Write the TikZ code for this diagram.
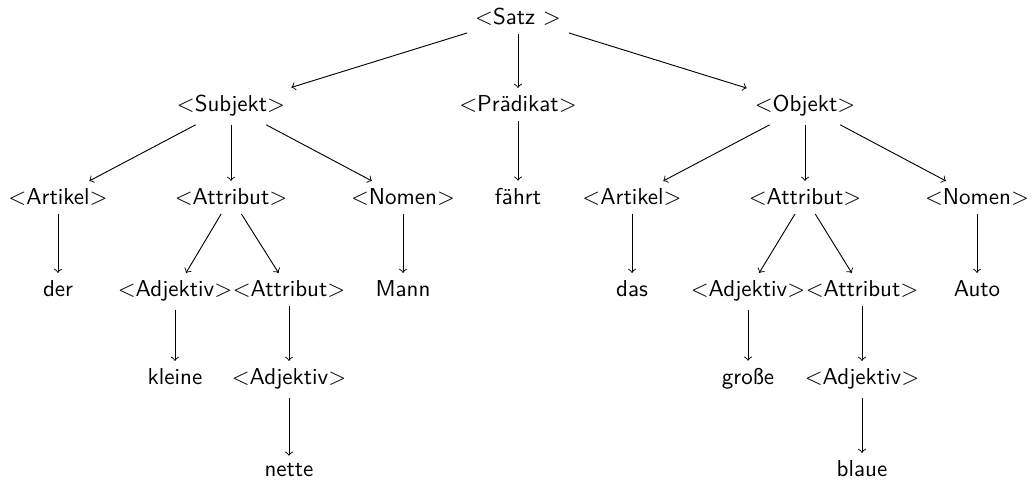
\documentclass[tikz,border=0pt]{standalone}
\begin{document}
\begin{tikzpicture}[x=0.435pt,y=-0.435pt,
  t/.style={font=\sffamily,anchor=base},
  arr/.style={->}]
\useasboundingbox (0,0) rectangle (1031,481);
% level 0
\node[t] (satz) at (518,25) {$<$Satz $>$};
% level 1
\node[t] (subj) at (231,112) {$<$Subjekt$>$};
\node[t] (pred) at (518,112) {$<$Prädikat$>$};
\node[t] (obj)  at (805,112) {$<$Objekt$>$};
% level 2
\node[t] (artL) at (58,205)  {$<$Artikel$>$};
\node[t] (attL) at (231,205) {$<$Attribut$>$};
\node[t] (nomL) at (403,205) {$<$Nomen$>$};
\node[t] (faehrt) at (518,205) {fährt};
\node[t] (artR) at (632,205) {$<$Artikel$>$};
\node[t] (attR) at (805,205) {$<$Attribut$>$};
\node[t] (nomR) at (977,205) {$<$Nomen$>$};
% level 3
\node[t] (der)   at (58,297)  {der};
\node[t] (adjL)  at (175,297) {$<$Adjektiv$>$};
\node[t] (att2L) at (289,297) {$<$Attribut$>$};
\node[t] (mann)  at (403,297) {Mann};
\node[t] (das)   at (632,297) {das};
\node[t] (adjR)  at (748,297) {$<$Adjektiv$>$};
\node[t] (att2R) at (862,297) {$<$Attribut$>$};
\node[t] (auto)  at (977,297) {Auto};
% level 4
\node[t] (kleine) at (175,385) {kleine};
\node[t] (adj2L)  at (289,385) {$<$Adjektiv$>$};
\node[t] (grosse) at (748,385) {große};
\node[t] (adj2R)  at (862,385) {$<$Adjektiv$>$};
% level 5
\node[t] (nette) at (289,477) {nette};
\node[t] (blaue) at (862,477) {blaue};
% connectors
\draw[arr] (satz) -- (subj);
\draw[arr] (satz) -- (pred);
\draw[arr] (satz) -- (obj);
\draw[arr] (subj) -- (artL);
\draw[arr] (subj) -- (attL);
\draw[arr] (subj) -- (nomL);
\draw[arr] (pred) -- (faehrt);
\draw[arr] (obj) -- (artR);
\draw[arr] (obj) -- (attR);
\draw[arr] (obj) -- (nomR);
\draw[arr] (artL) -- (der);
\draw[arr] (attL) -- (adjL);
\draw[arr] (attL) -- (att2L);
\draw[arr] (nomL) -- (mann);
\draw[arr] (artR) -- (das);
\draw[arr] (attR) -- (adjR);
\draw[arr] (attR) -- (att2R);
\draw[arr] (nomR) -- (auto);
\draw[arr] (adjL) -- (kleine);
\draw[arr] (att2L) -- (adj2L);
\draw[arr] (adjR) -- (grosse);
\draw[arr] (att2R) -- (adj2R);
\draw[arr] (adj2L) -- (nette);
\draw[arr] (adj2R) -- (blaue);
\end{tikzpicture}
\end{document}
